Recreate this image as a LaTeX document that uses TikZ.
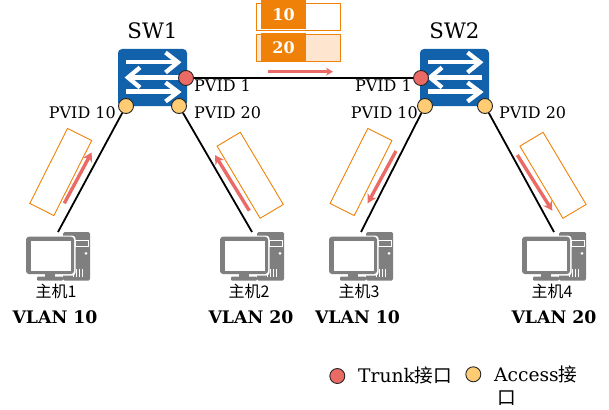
\documentclass[tikz,border=0pt]{standalone}
\usepackage{fontspec}
\setmainfont{DejaVu Serif}
\newfontfamily\cjk{Noto Sans CJK SC}
\usepackage{tikz}
\usetikzlibrary{arrows.meta,positioning,calc}
\definecolor{mBlue}{HTML}{1161AB}
\definecolor{mOrange}{HTML}{F08108}
\definecolor{mPeach}{HTML}{FDE5D0}
\definecolor{mSalmon}{HTML}{EA6B66}
\definecolor{mYellow}{HTML}{FFCC73}
\definecolor{mGrey}{HTML}{7F7F7F}
\tikzset{
  >=Stealth,
  switchbox/.style={rectangle,rounded corners=4pt,fill=mBlue,minimum width=69pt,minimum height=57pt},
  trunkport/.style={circle,draw=black!85,line width=0.9pt,fill=mSalmon,inner sep=0pt,minimum size=15pt},
  accessport/.style={circle,draw=black!85,line width=0.9pt,fill=mYellow,inner sep=0pt,minimum size=15pt},
  link/.style={line width=1.8pt,black},
  frame/.style={rectangle,draw=mOrange,line width=0.9pt,minimum width=84pt,minimum height=27pt,inner sep=0pt},
  tagbox/.style={rectangle,fill=mOrange,text=white,font=\fontsize{16}{16}\selectfont\bfseries,minimum width=45pt,minimum height=29pt,inner sep=0pt},
  flow/.style={-{Stealth[length=9pt,width=10pt]},line width=3.4pt,mSalmon},
  pvid/.style={font=\fontsize{16}{18}\selectfont,inner sep=0pt},
  hostname/.style={font=\fontsize{16}{18}\selectfont\cjk,inner sep=0pt},
  vlan/.style={font=\fontsize{17.3}{20}\selectfont\bfseries,inner sep=0pt},
  swname/.style={font=\fontsize{21.3}{24}\selectfont,inner sep=0pt},
  legendtext/.style={font=\fontsize{18.67}{23}\selectfont,inner sep=0pt,align=left},
  swarrows/.pic={
    \draw[white,line width=4.3pt] (-26.5,-15.5) -- (24,-15.5);
    \draw[white,line width=4.3pt,line join=miter] (13,-25) -- (25.5,-15.2) -- (13,-5);
    \draw[white,line width=4.3pt] (-24,0) -- (27.5,0);
    \draw[white,line width=4.3pt,line join=miter] (-12.5,-10) -- (-24.5,0) -- (-12.5,10);
    \draw[white,line width=4.3pt] (-26.5,14) -- (24,14);
    \draw[white,line width=4.3pt,line join=miter] (13,5) -- (25.5,14.5) -- (13,24);
  },
  hostpc/.pic={
    \fill[mGrey,rounded corners=1.5pt] (37,0) rectangle (64,48.7);
    \draw[white,line width=0.8pt] (49,8) rectangle (62,14);
    \fill[white] (60,21.3) circle (1.5pt);
    \foreach \xx in {47,50,53,56}
      \draw[white,line width=0.8pt] (\xx,37) -- (\xx,45);
    \fill[white,rounded corners=3pt] (-1,3.7) rectangle (49.5,43.5);
    \fill[mGrey,rounded corners=3pt] (0,4.7) rectangle (48,42);
    \fill[white] (4.7,8.7) rectangle (45,38.7);
    \fill[mGrey] (19,42) rectangle (29,45);
    \fill[mGrey,rounded corners=1pt] (11,44.7) rectangle (37,48.7);
  },
}
\begin{document}
\begin{tikzpicture}[x=1pt,y=-1pt]
  \useasboundingbox (0,0) rectangle (609,409);

  % switches
  \node[switchbox] (swa) at (152.5,77.5) {};
  \node[switchbox] (swb) at (454.5,77.5) {};
  \pic at (swa.center) {swarrows};
  \pic at (swb.center) {swarrows};
  \node[swname,above=10pt of swa] (swaname) {SW1};
  \node[swname,above=10pt of swb] (swbname) {SW2};

  % ports
  \node[trunkport] (ta) at (186,78) {};
  \node[trunkport] (tb) at (421,78) {};
  \node[accessport] (pa) at (126,106) {};
  \node[accessport] (pb) at (179,106) {};
  \node[accessport] (pc) at (425,106) {};
  \node[accessport] (pd) at (485,106) {};

  % hosts
  \pic at (26,232) {hostpc};
  \pic at (220,232) {hostpc};
  \pic at (329,232) {hostpc};
  \pic at (522,232) {hostpc};
  \coordinate (ha) at (58,232);
  \coordinate (hb) at (252,232);
  \coordinate (hc) at (361,232);
  \coordinate (hd) at (554,232);

  \draw[link] (ta) -- (tb);
  \draw[link] (pa) -- (ha);
  \draw[link] (pb) -- (hb);
  \draw[link] (pc) -- (hc);
  \draw[link] (pd) -- (hd);

  % port labels
  \node[pvid,anchor=west] (la) at (194,86) {PVID 1};
  \node[pvid,anchor=east] (lb) at (412,86) {PVID 1};
  \node[pvid,anchor=east] (lc) at (116,113) {PVID 10};
  \node[pvid,anchor=west] (ld) at (194,113) {PVID 20};
  \node[pvid,anchor=east] (le) at (418,113) {PVID 10};
  \node[pvid,anchor=west] (lf) at (499,113) {PVID 20};

  % frames on the trunk
  \node[frame] (fa) at (298,16.8) {};
  \node[frame,fill=mPeach] (fb) at (298,47.8) {};
  \node[tagbox] (ga) at (283.5,14.5) {10};
  \node[tagbox] (gb) at (283.5,47.5) {20};
  \coordinate (sa) at (268,71.7);
  \coordinate (ea) at (333,71.7);
  \draw[-{Stealth[length=7pt,width=8pt]},line width=2.6pt,mSalmon] (sa) -- (ea);

  % frames on the access links
  \node[frame,rotate=63.3] (fc) at (60.7,172) {};
  \node[frame,rotate=-59.2] (fd) at (250.2,175.3) {};
  \node[frame,rotate=63.3] (fe) at (361,172) {};
  \node[frame,rotate=-59.2] (ff) at (553,175.3) {};
  \coordinate (sb) at (64.3,203.3);
  \coordinate (eb) at (91.7,152.3);
  \coordinate (sc) at (249.3,210.7);
  \coordinate (ec) at (215,155);
  \coordinate (sd) at (396,151);
  \coordinate (ed) at (367.7,203.3);
  \coordinate (se) at (517.3,155);
  \coordinate (ee) at (552.3,210.7);
  \draw[flow] (sb) -- (eb);
  \draw[flow] (sc) -- (ec);
  \draw[flow] (sd) -- (ed);
  \draw[flow] (se) -- (ee);

  % host labels
  \node[hostname] (na) at (56,291.7) {主机1};
  \node[hostname] (nb) at (249,291.7) {主机2};
  \node[hostname] (nc) at (359,291.7) {主机3};
  \node[hostname] (nd) at (552,291.7) {主机4};
  \node[vlan] (va) at (55,317) {VLAN 10};
  \node[vlan] (vb) at (251,317) {VLAN 20};
  \node[vlan] (vc) at (357.5,317) {VLAN 10};
  \node[vlan] (vd) at (554,317) {VLAN 20};

  % legend
  \node[trunkport] (kt) at (337.3,376) {};
  \node[accessport] (ka) at (473.3,374.3) {};
  \node[legendtext,anchor=west] (kta) at (358,375) {Trunk{\cjk 接口}};
  \node[legendtext,anchor=north west] (kaa) at (494,365.5) {Access{\cjk 接}\\\hspace*{3pt}{\cjk 口}};
\end{tikzpicture}
\end{document}
